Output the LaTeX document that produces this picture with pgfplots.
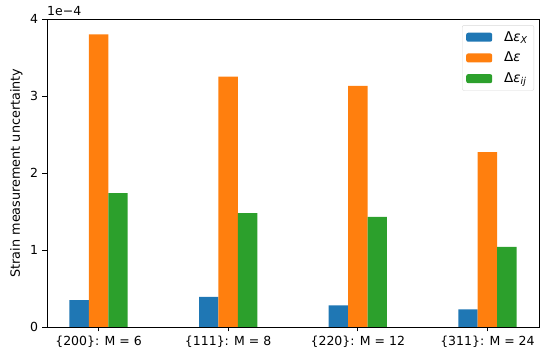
\documentclass[border=0pt]{standalone}
\usepackage{pgfplots}
\pgfplotsset{compat=1.18}
\usepackage{fontspec}
\setmainfont{DejaVu Sans}
\definecolor{c0}{HTML}{1F77B4}
\definecolor{c1}{HTML}{FF7F0E}
\definecolor{c2}{HTML}{2CA02C}
\pgfplotstableread{
x a b c
0 0.35 3.80 1.74
1 0.39 3.25 1.48
2 0.28 3.13 1.43
3 0.23 2.27 1.04
}\datatab
\begin{document}
\fontsize{12.5}{15}\selectfont
\begin{tikzpicture}
\begin{axis}[
  name=ax,
  clip=false,
  scale only axis,
  width=492pt, height=308pt,
  xmin=-0.3975, xmax=3.3975,
  ymin=0, ymax=4,
  ybar, bar width=0.15,
  xtick={0,1,2,3},
  xticklabels={{\{200\}: M = 6},{\{111\}: M = 8},{\{220\}: M = 12},{\{311\}: M = 24}},
  ytick={0,1,2,3,4},
  tick align=outside,
  tick pos=left,
  major tick length=4.5pt,
  every tick/.style={black, line width=0.9pt},
  axis line style={line width=0.9pt},
  /pgf/number format/assume math mode=true,
  ticklabel style={font=\fontsize{12.5}{15}\selectfont},
  ylabel={Strain measurement uncertainty},
  ylabel style={font=\fontsize{12.8}{15}\selectfont, yshift=-1pt},
  legend style={at={(0.99,0.98)}, anchor=north east, draw=black!15, rounded corners=2pt,
    font=\fontsize{13.5}{15}\selectfont, row sep=5pt, inner xsep=4pt, inner ysep=4pt,
    /tikz/every odd column/.append style={column sep=10pt}},
  legend cell align=left,
  legend image code/.code={\fill[#1] (0pt,-4.5pt) rectangle (26pt,4.5pt);},
]
\addplot[fill=c0, draw=none, bar shift=-0.15] table[x=x,y=a] {\datatab};
\addplot[fill=c1, draw=none, bar shift=0] table[x=x,y=b] {\datatab};
\addplot[fill=c2, draw=none, bar shift=0.15] table[x=x,y=c] {\datatab};
\legend{Δ\textit{ε}\textsubscript{\textit{X}}, Δ\textit{ε}, Δ\textit{ε}\textsubscript{\textit{ij}}}
\node[anchor=south west, inner sep=0pt, font=\fontsize{12.5}{15}\selectfont] at (rel axis cs:0,1.01) {1e\textminus4};
\end{axis}
\path[use as bounding box] ([shift={(-47pt,-28pt)}]ax.south west) rectangle ([shift={(11pt,19pt)}]ax.north east);
\end{tikzpicture}
\end{document}
